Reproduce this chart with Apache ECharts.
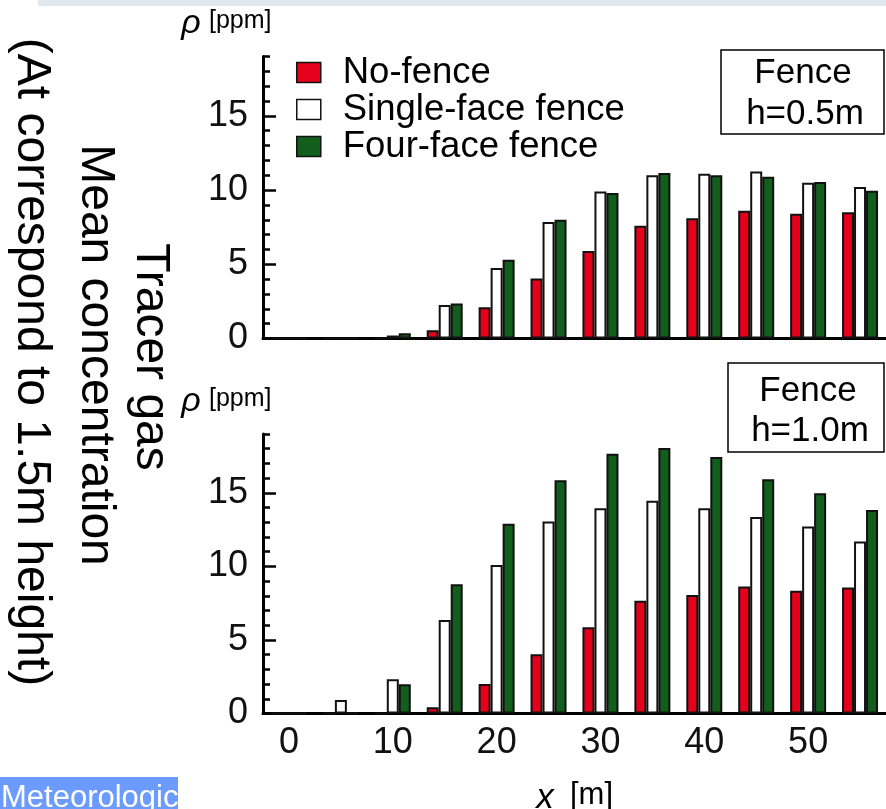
<!DOCTYPE html>
<html><head><meta charset="utf-8">
<script src="https://cdn.jsdelivr.net/npm/echarts@6/dist/echarts.min.js"></script>
<style>html,body{margin:0;padding:0;background:#fff}#c{width:886px;height:809px}</style>
</head><body><div id="c"></div>
<script>
const categories = ['0','5','10','15','20','25','30','35','40','45','50','55'];
const seriesNames = ['No-fence','Single-face fence','Four-face fence'];
// Panel 1: Fence h=0.5m
const topNoFence = [0,0,0,0.55,2.1,4.05,5.9,7.6,8.1,8.6,8.4,8.5];
const topSingle  = [0,0,0.2,2.25,4.75,7.85,9.9,11.0,11.1,11.25,10.5,10.2];
const topFour    = [0,0.05,0.35,2.35,5.3,8.0,9.8,11.15,11.0,10.9,10.55,9.95];
// Panel 2: Fence h=1.0m
const botNoFence = [0,0,0,0.42,2.0,4.03,5.86,7.67,8.06,8.63,8.35,8.56];
const botSingle  = [0,0.92,2.33,6.36,10.1,13.05,13.96,14.46,13.96,13.35,12.71,11.69];
const botFour    = [0,0.05,1.99,8.79,12.9,15.85,17.65,18.04,17.43,15.93,14.98,13.84];
const yTickLabels = [0,5,10,15];
const xTickLabels = ['0','10','20','30','40','50'];

const FONT = '"Liberation Sans", Arial, Helvetica, sans-serif';
const colors = ['#e5001b', '#ffffff', '#125e1d'];
const yMax = 19;

function majorY(gridIndex, show) {
  return {
    type: 'value', gridIndex: gridIndex, min: 0, max: yMax, interval: 5, position: 'left',
    splitLine: {show: false},
    axisLine: {show: true, lineStyle: {color: '#000', width: 3}},
    axisTick: {show: true, inside: true, length: 13, lineStyle: {color: '#000', width: 2.5}, customValues: yTickLabels},
    axisLabel: {show: show, margin: 15, fontSize: 36, color: '#111', fontFamily: FONT, customValues: yTickLabels,
      formatter: function (v) { return yTickLabels.indexOf(v) >= 0 ? String(v) : ''; }}
  };
}
function minorY(gridIndex) {
  return {
    type: 'value', gridIndex: gridIndex, min: 0, max: yMax, interval: 1, position: 'left', offset: 0,
    splitLine: {show: false},
    axisLine: {show: false},
    axisTick: {show: true, inside: true, length: 7, lineStyle: {color: '#000', width: 2.5}},
    axisLabel: {show: false}
  };
}
function xAx(gridIndex, showLabels) {
  return {
    type: 'category', gridIndex: gridIndex, data: categories, boundaryGap: true,
    axisLine: {show: true, onZero: true, lineStyle: {color: '#000', width: 3}},
    axisTick: {show: false},
    splitLine: {show: false},
    axisLabel: {show: showLabels, interval: 0, margin: 12, fontSize: 36, color: '#111', fontFamily: FONT,
      formatter: function (v) { return xTickLabels.indexOf(v) >= 0 ? v : ''; }}
  };
}
function barSeries(name, data, xi, yi, ci) {
  return {
    type: 'bar', name: name, data: data, xAxisIndex: xi, yAxisIndex: yi,
    barWidth: 12, barGap: '0%',
    itemStyle: {color: colors[ci], borderColor: '#111', borderWidth: 2},
    emphasis: {disabled: true}, silent: true
  };
}

function rtext(txt, x, y, size) {
  return {
    type: 'text', x: x, y: y, rotation: -Math.PI / 2, silent: true,
    style: {text: txt, fontSize: size, fontFamily: FONT, fill: '#000', align: 'center', verticalAlign: 'middle',
      textAlign: 'center', textVerticalAlign: 'middle'}
  };
}
function text(txt, x, y, size, opts) {
  opts = opts || {};
  return {
    type: 'text', x: x, y: y, silent: true,
    style: {text: txt, fontSize: size, fontFamily: FONT, fontStyle: opts.italic ? 'italic' : 'normal',
      fill: opts.fill || '#000', align: opts.align || 'center', verticalAlign: 'middle',
      textAlign: opts.align || 'center', textVerticalAlign: 'middle'}
  };
}

const chart = echarts.init(document.getElementById('c'), null, {renderer: 'canvas'});
chart.setOption({
  animation: false,
  backgroundColor: '#fff',
  grid: [
    {left: 263, right: 0, top: 56.5, height: 282, containLabel: false, outerBoundsMode: 'none'},
    {left: 263, right: 0, top: 434, height: 279.5, containLabel: false, outerBoundsMode: 'none'}
  ],
  xAxis: [xAx(0, false), xAx(1, true)],
  yAxis: [majorY(0, true), minorY(0), majorY(1, true), minorY(1)],
  legend: {
    orient: 'vertical', left: 296, top: 54, padding: 0, itemGap: 0,
    itemWidth: 24, itemHeight: 20, icon: 'rect', selectedMode: false,
    data: seriesNames,
    itemStyle: {borderColor: '#111', borderWidth: 1.5},
    textStyle: {fontSize: 36.5, lineHeight: 35.5, color: '#000', fontFamily: FONT, padding: [0, 0, 0, 17]}
  },
  series: [
    barSeries(seriesNames[0], topNoFence, 0, 0, 0),
    barSeries(seriesNames[1], topSingle, 0, 0, 1),
    barSeries(seriesNames[2], topFour, 0, 0, 2),
    barSeries(seriesNames[0], botNoFence, 1, 2, 0),
    barSeries(seriesNames[1], botSingle, 1, 2, 1),
    barSeries(seriesNames[2], botFour, 1, 2, 2)
  ],
  graphic: [
    {type: 'rect', silent: true, shape: {x: 38, y: 0, width: 848, height: 6}, style: {fill: '#dfe9ef'}},
    rtext('(At correspond to 1.5m height)', 31, 362, 48),
    rtext('Mean concentration', 95, 355, 48),
    rtext('Tracer gas', 150, 357, 48),
    text('ρ', 191, 24, 34, {italic: true}),
    text('[ppm]', 209, 21, 25, {align: 'left'}),
    text('ρ', 191, 402, 34, {italic: true}),
    text('[ppm]', 209, 399, 25, {align: 'left'}),
    text('x', 545, 798, 35, {italic: true}),
    text('[m]', 570, 795, 31, {align: 'left'}),
    {type: 'rect', silent: true, shape: {x: 721, y: 50, width: 163, height: 84}, style: {fill: '#fff', stroke: '#000', lineWidth: 1.5}},
    text('Fence', 803, 73, 35),
    text('h=0.5m', 805, 114, 35),
    {type: 'rect', silent: true, shape: {x: 728, y: 363, width: 156, height: 89}, style: {fill: '#fff', stroke: '#000', lineWidth: 1.5}},
    text('Fence', 808, 391, 35),
    text('h=1.0m', 810, 431, 35),
    {type: 'rect', silent: true, shape: {x: 0, y: 777, width: 178, height: 32}, style: {fill: '#6b9bff'}},
    text('Meteorologic', 1, 798, 31, {align: 'left', fill: '#fff'})
  ]
});
</script></body></html>
